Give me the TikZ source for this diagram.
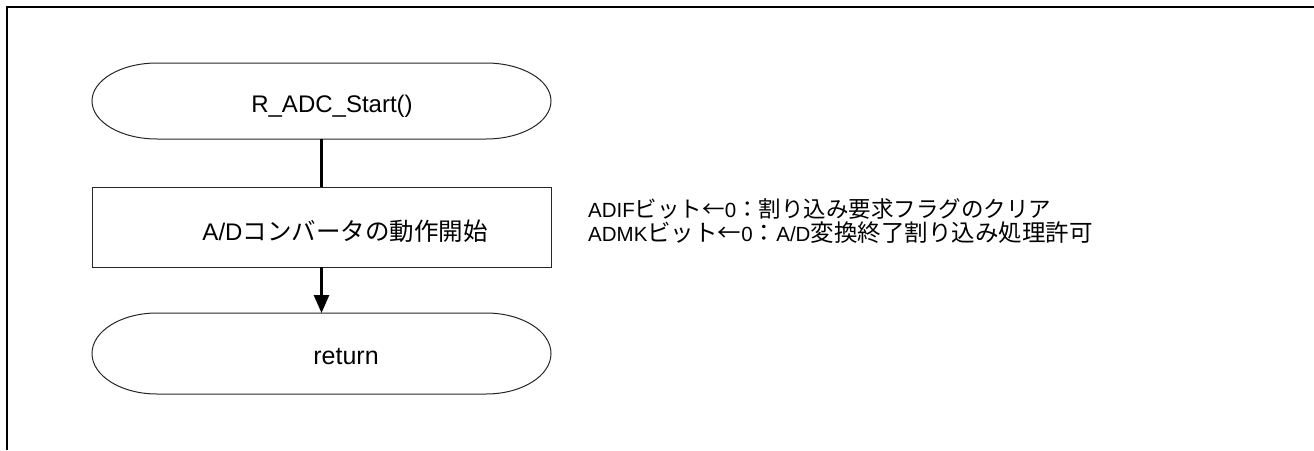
\documentclass[tikz,border=0pt]{standalone}
\usepackage{fontspec}
\setmainfont{Liberation Sans}
\newfontfamily\cjk{Noto Sans CJK JP}
\usetikzlibrary{arrows.meta}
\newcommand\jpa[1]{{\cjk\fontsize{22.5}{24}\selectfont #1}}
\newcommand\jpb[1]{{\cjk\fontsize{23.5}{24}\selectfont #1}}
\begin{document}
\begin{tikzpicture}[x=1pt,y=1pt,
  shapebox/.style={minimum width=459pt,inner sep=0pt,outer sep=0pt},
  outline/.style={line width=1pt,draw={black!85}},
  flow/.style={line width=2.8pt},
  txt/.style={inner sep=0pt,anchor=center},
  notetxt/.style={anchor=base west,inner sep=0pt,font=\fontsize{20.5}{24}\selectfont}]
\useasboundingbox (0,0) rectangle (1314,-450);
\draw[line width=2.5pt] (7,-450) -- (7,-7) -- (1314,-7);
% nodes
\node[shapebox,minimum height=76pt] (s) at (321.5,-101) {};
\node[shapebox,minimum height=80pt,outline,draw] (b) at (321.5,-227) {};
\node[shapebox,minimum height=81pt] (r) at (321.5,-353.5) {};
% stadium outlines
\draw[outline] ([xshift=65pt]s.north west) -- ([xshift=-65pt]s.north east)
  arc[start angle=90,end angle=-90,x radius=65pt,y radius=38pt]
  -- ([xshift=65pt]s.south west)
  arc[start angle=270,end angle=90,x radius=65pt,y radius=38pt] -- cycle;
\draw[outline] ([xshift=65pt]r.north west) -- ([xshift=-65pt]r.north east)
  arc[start angle=90,end angle=-90,x radius=65pt,y radius=40.5pt]
  -- ([xshift=65pt]r.south west)
  arc[start angle=270,end angle=90,x radius=65pt,y radius=40.5pt] -- cycle;
% texts
\node[txt,font=\fontsize{24}{28}\selectfont] (st) at (332,-106) {R\_ADC\_Start()};
\node[txt,font=\fontsize{24}{28}\selectfont] (bt) at (345,-231) {A/D{\cjk\fontsize{24.5}{28}\selectfont コンバータの動作開始}};
\node[txt,font=\fontsize{25}{28}\selectfont] (rt) at (346,-357) {return};
\node[notetxt] (n1) at (588,-217) {ADIF\jpa{ビット←}0\jpa{：割り込み要求フラグのクリア}};
\node[notetxt] (n2) at (588,-241) {ADMK\jpb{ビット←}0\jpb{：}A/D\jpb{変換終了割り込み処理許可}};
% connectors
\draw[flow] (s.south) -- (b.north);
\draw[flow,-{Triangle[length=18pt,width=15pt]}] (b.south) -- (r.north);
\end{tikzpicture}
\end{document}
